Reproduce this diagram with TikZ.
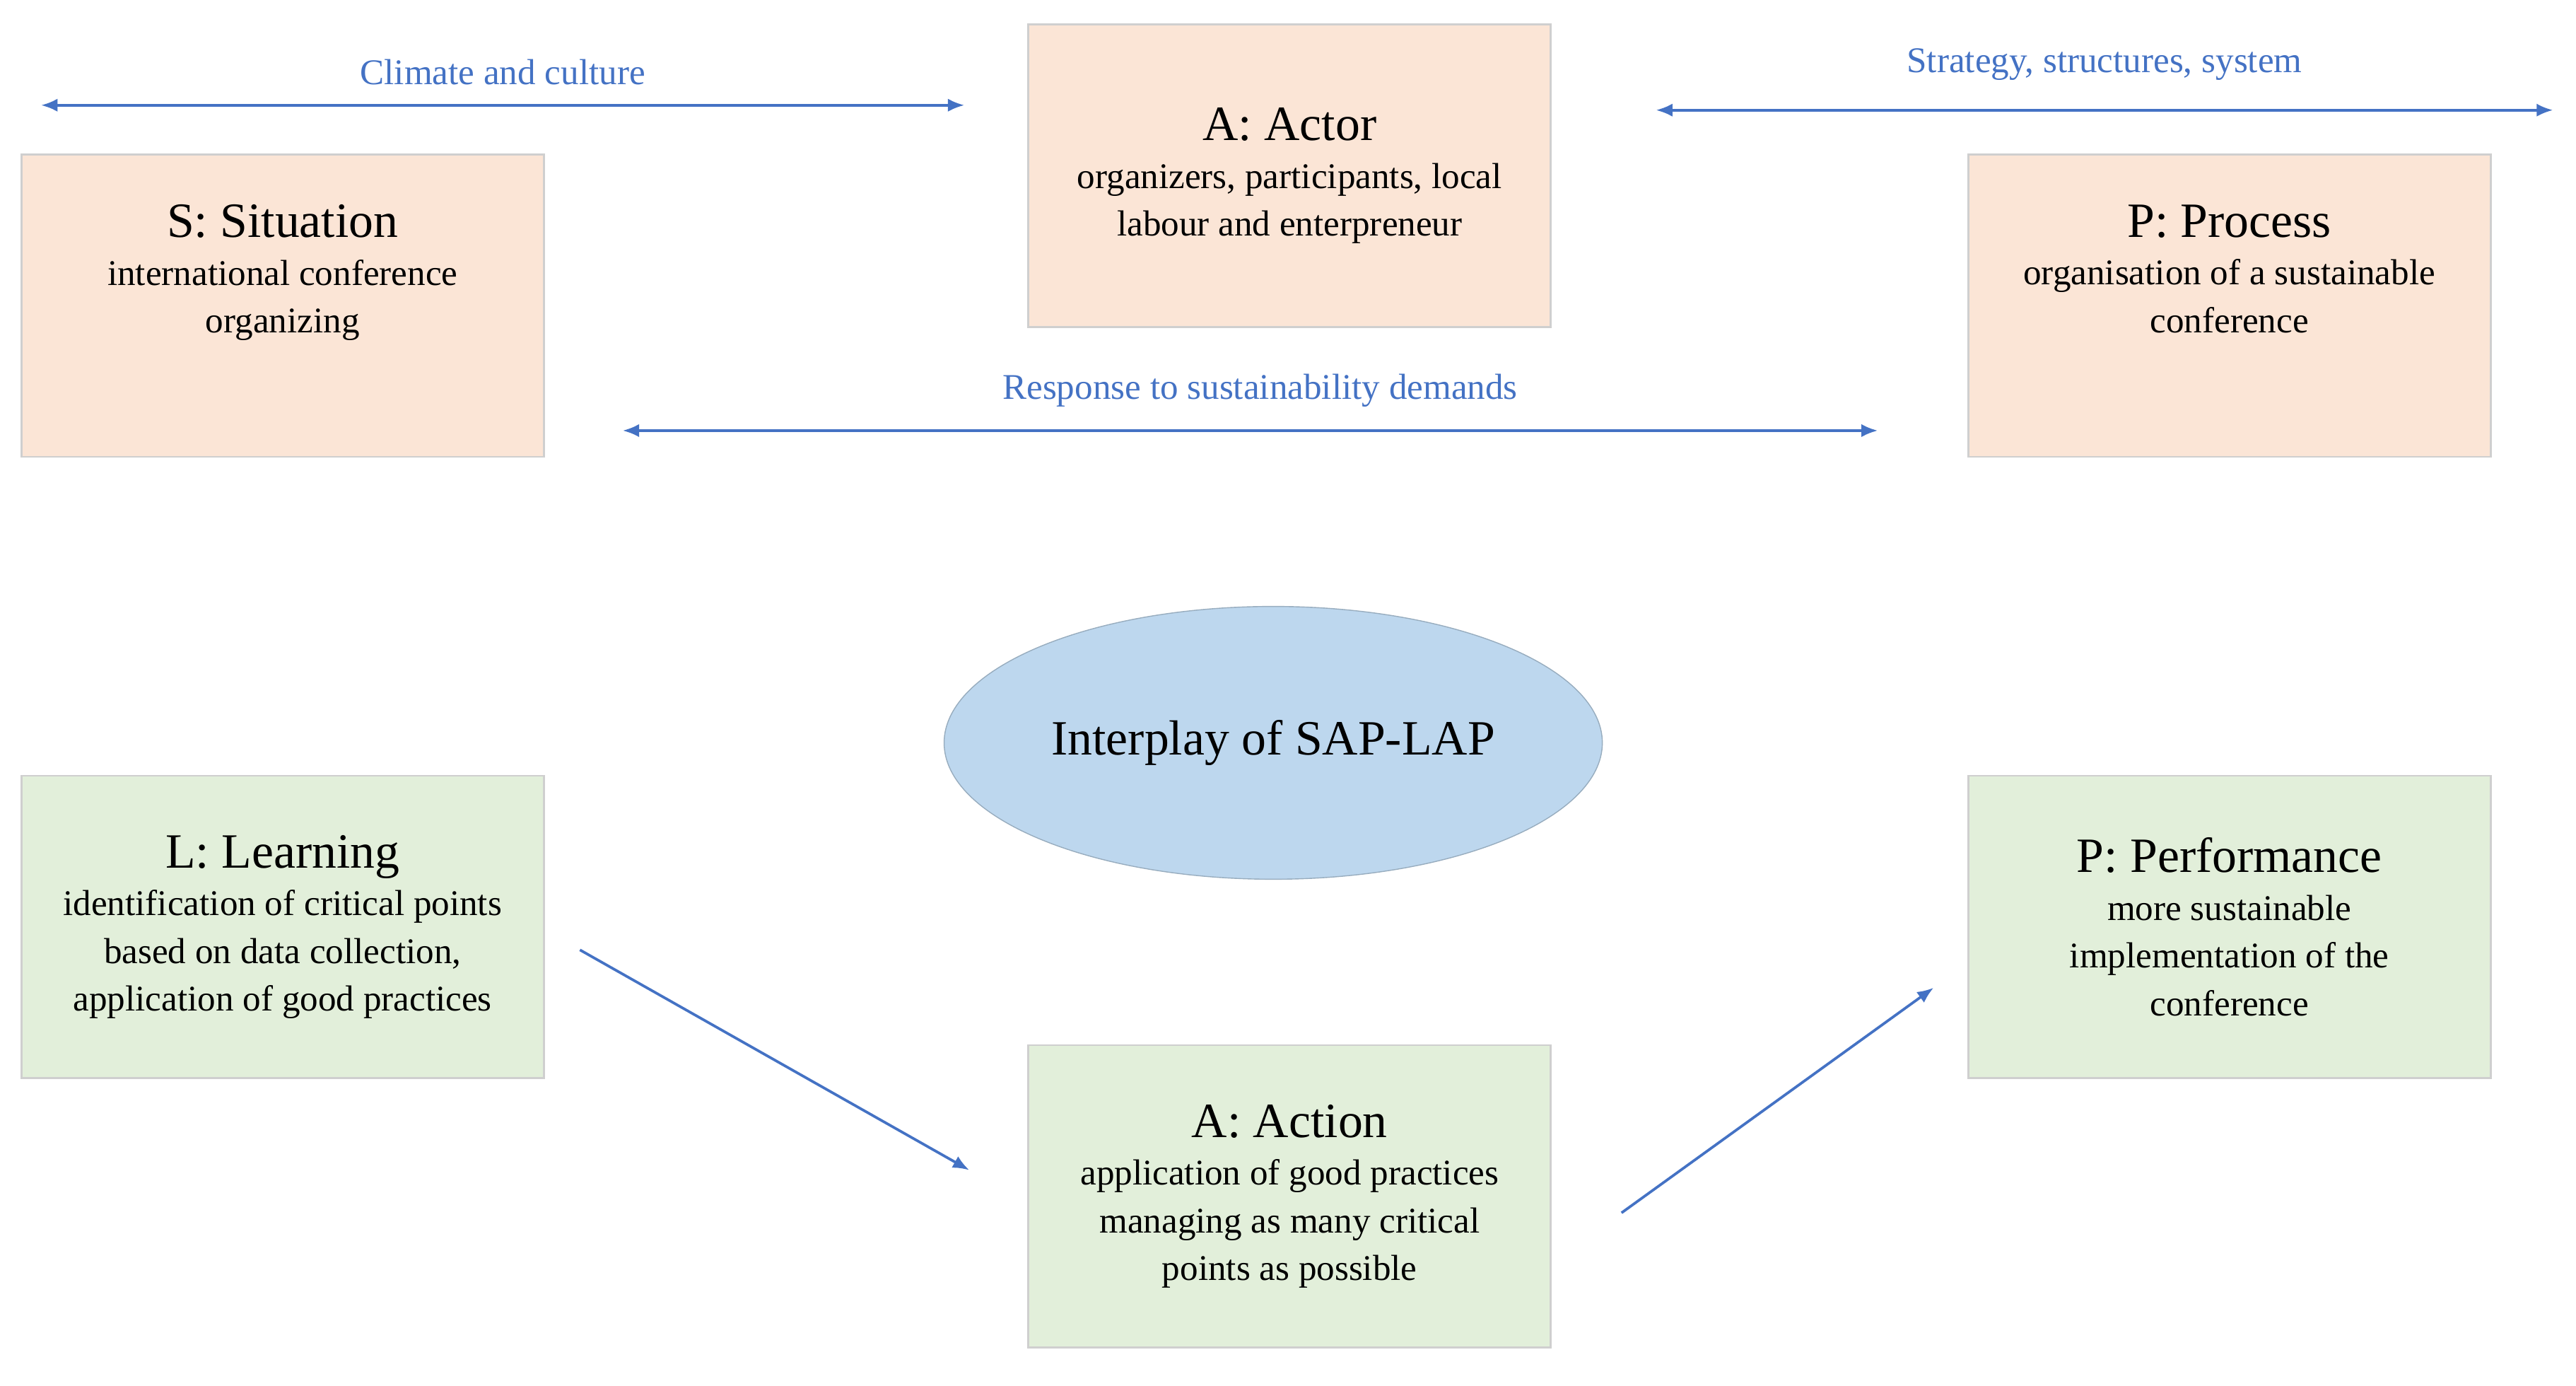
\documentclass[tikz,border=0pt]{standalone}
\usepackage{fontspec}
\setmainfont{Liberation Serif}
\usetikzlibrary{arrows.meta,shapes.geometric}
\definecolor{boxorange}{HTML}{FBE5D6}
\definecolor{boxgreen}{HTML}{E2EFDA}
\definecolor{ellblue}{HTML}{BDD7EE}
\definecolor{arrowblue}{HTML}{4472C4}
\definecolor{boxline}{HTML}{CFCFCF}
\tikzset{
  sapbox/.style={draw=boxline, line width=0.6pt, minimum width=159pt, minimum height=92pt,
    align=center, inner sep=2pt, font=\fontsize{11}{14.5}\selectfont},
  sap/.style={sapbox, fill=boxorange},
  lap/.style={sapbox, fill=boxgreen},
  link/.style={arrowblue, line width=0.8pt, -{Latex[length=5pt,width=4pt]}},
  dlink/.style={link, {Latex[length=5pt,width=4pt]}-{Latex[length=5pt,width=4pt]}},
  lbl/.style={font=\fontsize{11}{13}\selectfont, inner sep=0.75pt}
}
\newcommand{\ttl}[1]{{\fontsize{15}{18}\selectfont #1}\\}
\begin{document}
\begin{tikzpicture}[x=0.5pt,y=0.5pt,yscale=-1]
\useasboundingbox (0,0) rectangle (1568,843);

% SAP boxes
\node[sap] (situation) at (172,186) {\ttl{S: Situation}international conference\\organizing\\[8pt]};
\node[sap] (actor) at (785,107) {\ttl{A: Actor}organizers, participants, local\\labour and enterpreneur};
\node[sap] (process) at (1357,186) {\ttl{P: Process}organisation of a sustainable\\conference\\[8pt]};

% LAP boxes
\node[lap] (learning) at (172,564) {\ttl{L: Learning}identification of critical points\\based on data collection,\\application of good practices};
\node[lap] (action) at (785,728) {\ttl{A: Action}application of good practices\\managing as many critical\\points as possible};
\node[lap] (performance) at (1357,564) {\ttl{P: Performance}more sustainable\\implementation of the\\conference};

% centre
\node[ellipse, fill=ellblue, draw=ellblue!80!black, line width=0.3pt, minimum width=188pt, minimum height=83pt,
  font=\fontsize{15}{18}\selectfont] (interplay) at (775,452) {Interplay of SAP-LAP};

% arrow ends
\coordinate (c1) at (25,64);
\coordinate (c2) at (587,64);
\coordinate (s1) at (1008,67);
\coordinate (s2) at (1554,67);
\coordinate (r1) at (379,262);
\coordinate (r2) at (1143,262);
\coordinate (l1) at (353,578);
\coordinate (a1) at (590,712);
\coordinate (a2) at (987,738);
\coordinate (p1) at (1177,601);

\draw[dlink] (c1) -- node[lbl, above=5pt] (climate) {Climate and culture} (c2);
\draw[dlink] (s1) -- node[lbl, above=8pt] (strategy) {Strategy, structures, system} (s2);
\draw[dlink] (r1) -- node[lbl, above=6pt, xshift=3pt] (response) {Response to sustainability demands} (r2);
\draw[link] (l1) -- (a1);
\draw[link] (a2) -- (p1);
\end{tikzpicture}
\end{document}
